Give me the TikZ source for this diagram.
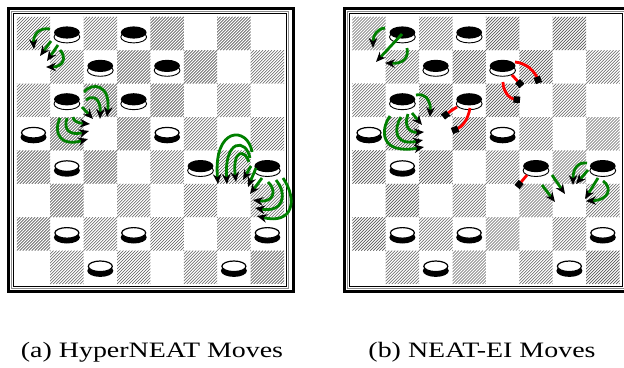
\documentclass[tikz,border=0pt]{standalone}
\usepackage{fontspec}
\setmainfont{Liberation Serif}
\usetikzlibrary{arrows.meta}
\newcommand{\blackpc}[2]{%
  \draw[fill=white,line width=0.9pt] ({#1},{#2+3.5}) ellipse [x radius=12.9pt, y radius=5.9pt];
  \fill[black] ({#1},{#2-1}) ellipse [x radius=12.9pt, y radius=6.1pt];
}
\newcommand{\whitepc}[2]{%
  \fill[black] ({#1},{#2+3.5}) ellipse [x radius=13pt, y radius=6.1pt];
  \draw[fill=white,line width=1.2pt] ({#1},{#2-1}) ellipse [x radius=12pt, y radius=5.3pt];
}
\newcommand{\hatchsq}[2]{%
  \begin{scope}
    \clip ({#1},{#2}) rectangle ++(33.4,33.4);
    \foreach \k in {-33,-30,...,33}{
      \draw[hatchline] ({#1+(\k)},{#2+33.4}) -- ++(33.4,-33.4);
    }
  \end{scope}
}
\newcommand{\drawboard}{%
  \draw[line width=3pt] (8.5,8.5) rectangle (293,291.5);
  \draw[line width=1.2pt,black!45] (11.8,11.8) rectangle (288.8,288.3);
  \draw[line width=0.8pt] (13.8,13.8) rectangle (286.5,286);
  \foreach \r in {0,...,7}{
    \foreach \c in {0,...,7}{
      \pgfmathtruncatemacro{\sqpar}{mod(\r+\c,2)}
      \ifnum\sqpar=0
        \hatchsq{16.8+33.4*\c}{16.8+33.4*\r}
      \fi
    }
  }
  \foreach \r/\c in {0/1,0/3,1/2,1/4,2/1,2/3,4/5,4/7}{
    \blackpc{16.8+33.4*(\c+0.5)}{16.8+33.4*(\r+0.5)}
  }
  \foreach \r/\c in {3/0,3/4,4/1,6/1,6/3,6/7,7/2,7/6}{
    \whitepc{16.8+33.4*(\c+0.5)}{16.8+33.4*(\r+0.5)}
  }
}
\begin{document}
\begin{tikzpicture}[x=1pt,y=-1pt,
  hatchline/.style={line width=0.6pt, black!65},
  mv/.style={draw=green!50!black, line width=2.8pt, -{Stealth[length=10pt,width=8.5pt,black]}},
  ei/.style={draw=red, line width=2.8pt, -{Square[length=6.5pt,width=6.5pt,black]}},
  captext/.style={font=\fontsize{22}{26}\selectfont, inner sep=0pt, anchor=base, xscale=1.27}
]
\useasboundingbox (0,0) rectangle (624,367);

% ---------- left board ----------
\begin{scope}
  \drawboard
\end{scope}
% group A
\draw[mv] (50,29) .. controls (38,27) and (33,36) .. (34,49);
\draw[mv] (51,41) -- (40,56);
\draw[mv] (58,45) -- (47,61);
\draw[mv] (60,50) .. controls (67,58) and (63,67) .. (46,67);
% group B
\draw[mv] (84,92) .. controls (92,82) and (111,84) .. (107,117);
\draw[mv] (86,100) .. controls (92,95) and (101,97) .. (100,119);
\draw[mv] (82,107) -- (93,119);
% group C
\draw[mv] (60,118) .. controls (53,133) and (60,147) .. (88,139);
\draw[mv] (67,118) .. controls (63,130) and (70,136) .. (89,131);
\draw[mv] (73,117) .. controls (73,121) and (78,123) .. (90,124);
% group D
\draw[mv] (252,152) .. controls (248,126) and (213,126) .. (218,184);
\draw[mv] (250,158) .. controls (246,138) and (224,139) .. (227,184);
\draw[mv] (249,162) .. controls (245,149) and (232,149) .. (236,182);
\draw[mv] (251,166) -- (243,180);
\draw[mv] (256,168) -- (248,187);
\draw[mv] (283,178) .. controls (298,200) and (293,225) .. (257,216);
\draw[mv] (276,180) .. controls (288,195) and (283,213) .. (255,208);
\draw[mv] (268,182) .. controls (277,190) and (274,203) .. (253,200);
\draw[mv] (262,178) -- (250,194);

% ---------- right board ----------
\begin{scope}[xshift=335.5pt]
  \drawboard
\end{scope}
% green moves
\draw[mv] (385,28) .. controls (377,29) and (373,35) .. (373,48);
\draw[mv] (402,34) -- (376,62);
\draw[mv] (407,48) .. controls (409,58) and (403,64) .. (385,63);
\draw[mv] (416,95) .. controls (425,93) and (431,100) .. (430,117);
\draw[mv] (390,116) .. controls (380,130) and (380,155) .. (424,147);
\draw[mv] (401,117) .. controls (393,130) and (395,146) .. (423,140);
\draw[mv] (408,114) .. controls (404,125) and (408,133) .. (424,132);
\draw[mv] (412,113) -- (422,125);
\draw[mv] (552,175) -- (565,194);
\draw[mv] (542,185) -- (555,202);
\draw[mv] (587,163) .. controls (578,162) and (573,168) .. (573,185);
\draw[mv] (588,170) -- (576,184);
\draw[mv] (598,178) -- (585,199);
\draw[mv] (603,181) .. controls (612,187) and (610,200) .. (586,201);
% red connectors
\draw[ei] (470,108) .. controls (468,120) and (462,127) .. (452,131);
\draw[ei] (457,107) .. controls (452,110) and (448,113) .. (443,117);
\draw[ei] (515,62) .. controls (527,63) and (535,72) .. (539,83);
\draw[ei] (512,75) -- (522,86);
\draw[ei] (503,82) .. controls (503,92) and (510,99) .. (520,100);
\draw[ei] (527,175) -- (517,187);

% captions
\node[captext] (capa) at (152,357.3) {(a) HyperNEAT Moves};
\node[captext] (capb) at (482,357.3) {(b) NEAT-EI Moves};
\end{tikzpicture}
\end{document}
